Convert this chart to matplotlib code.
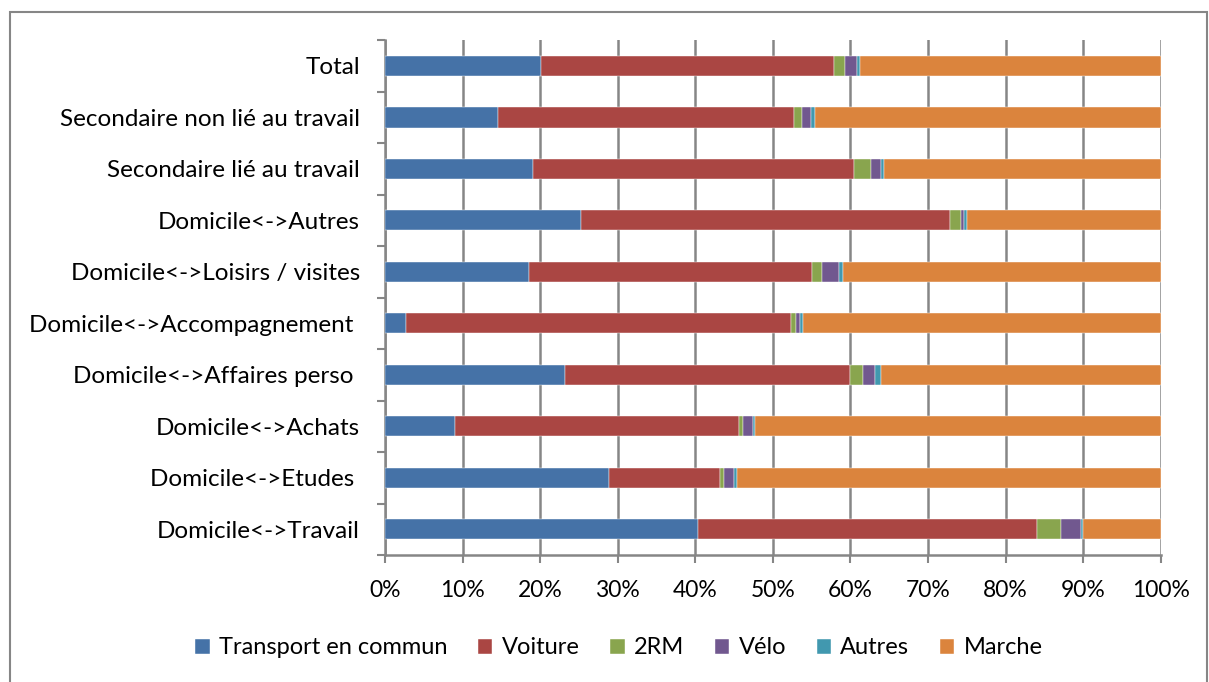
import numpy as np
import matplotlib
matplotlib.use("Agg")
import matplotlib.pyplot as plt
from matplotlib.patches import Rectangle

plt.rcParams['font.family'] = ['Lato', 'DejaVu Sans']

# categories, bottom to top
categories = [
    'Domicile<->Travail',
    'Domicile<->Etudes ',
    'Domicile<->Achats',
    'Domicile<->Affaires perso ',
    'Domicile<->Accompagnement ',
    'Domicile<->Loisirs / visites',
    'Domicile<->Autres',
    'Secondaire lié au travail',
    'Secondaire non lié au travail',
    'Total',
]

# shares in % (same order as categories)
tc      = [40.4, 28.9,  9.0, 23.2,  2.7, 18.6, 25.3, 19.1, 14.5, 20.1]
voiture = [43.6, 14.3, 36.6, 36.8, 49.6, 36.5, 47.5, 41.4, 38.2, 37.8]
drm     = [ 3.1,  0.5,  0.6,  1.6,  0.7,  1.2,  1.5,  2.2,  1.1,  1.4]
velo    = [ 2.6,  1.3,  1.3,  1.6,  0.5,  2.2,  0.3,  1.2,  1.1,  1.6]
autres  = [ 0.3,  0.4,  0.2,  0.7,  0.4,  0.6,  0.4,  0.4,  0.5,  0.4]
marche  = [10.0, 54.6, 52.3, 36.1, 46.1, 40.9, 25.0, 35.7, 44.6, 38.7]

series = ['Transport en commun', 'Voiture', '2RM', 'Vélo', 'Autres', 'Marche']
colors = ['#4572A7', '#AA4643', '#89A54E', '#71588F', '#4198AF', '#DB843D']
values = [tc, voiture, drm, velo, autres, marche]

fig = plt.figure(figsize=(12.09, 6.82), dpi=100)
ax = fig.add_axes([0.3185, 0.186, 0.6415, 0.755])

y = np.arange(len(categories))
left = np.zeros(len(categories))
for name, col, vals in zip(series, colors, values):
    vals = np.array(vals, dtype=float)
    ax.barh(y, vals, left=left, height=0.39, color=col, label=name,
            edgecolor='white', linewidth=0.3, zorder=3)
    left += vals

ax.set_xlim(0, 100)
ax.set_ylim(-0.5, len(categories) - 0.5)
ax.set_xticks(np.arange(0, 101, 10))
ax.set_xticklabels([f'{v}%' for v in range(0, 101, 10)], fontsize=16.5)
ax.set_yticks(y)
ax.set_yticklabels(categories, fontsize=17.5)
ax.set_yticks(np.arange(-0.5, len(categories), 1), minor=True)
ax.tick_params(axis='y', which='major', length=0, pad=18)
ax.tick_params(axis='y', which='minor', length=6, width=1.5, color='#868686')
ax.tick_params(axis='x', length=6, width=1.5, color='#868686', pad=12)

ax.grid(axis='x', color='#868686', linewidth=1.8, zorder=0)
for s in ['top', 'right']:
    ax.spines[s].set_visible(False)
for s in ['left', 'bottom']:
    ax.spines[s].set_color('#868686')
    ax.spines[s].set_linewidth(1.8)

ax.legend(loc='center', bbox_to_anchor=(0.512, 0.05), bbox_transform=fig.transFigure,
          ncol=6, frameon=False, fontsize=17, handlelength=0.6, handleheight=0.6,
          handletextpad=0.4, columnspacing=1.3)

# outer border of the chart area
fig.patches.append(Rectangle((0.0085, -0.01), 0.99, 0.993, transform=fig.transFigure,
                             fill=False, edgecolor='#868686', linewidth=1.5))

fig.savefig('out.png', dpi=100)
